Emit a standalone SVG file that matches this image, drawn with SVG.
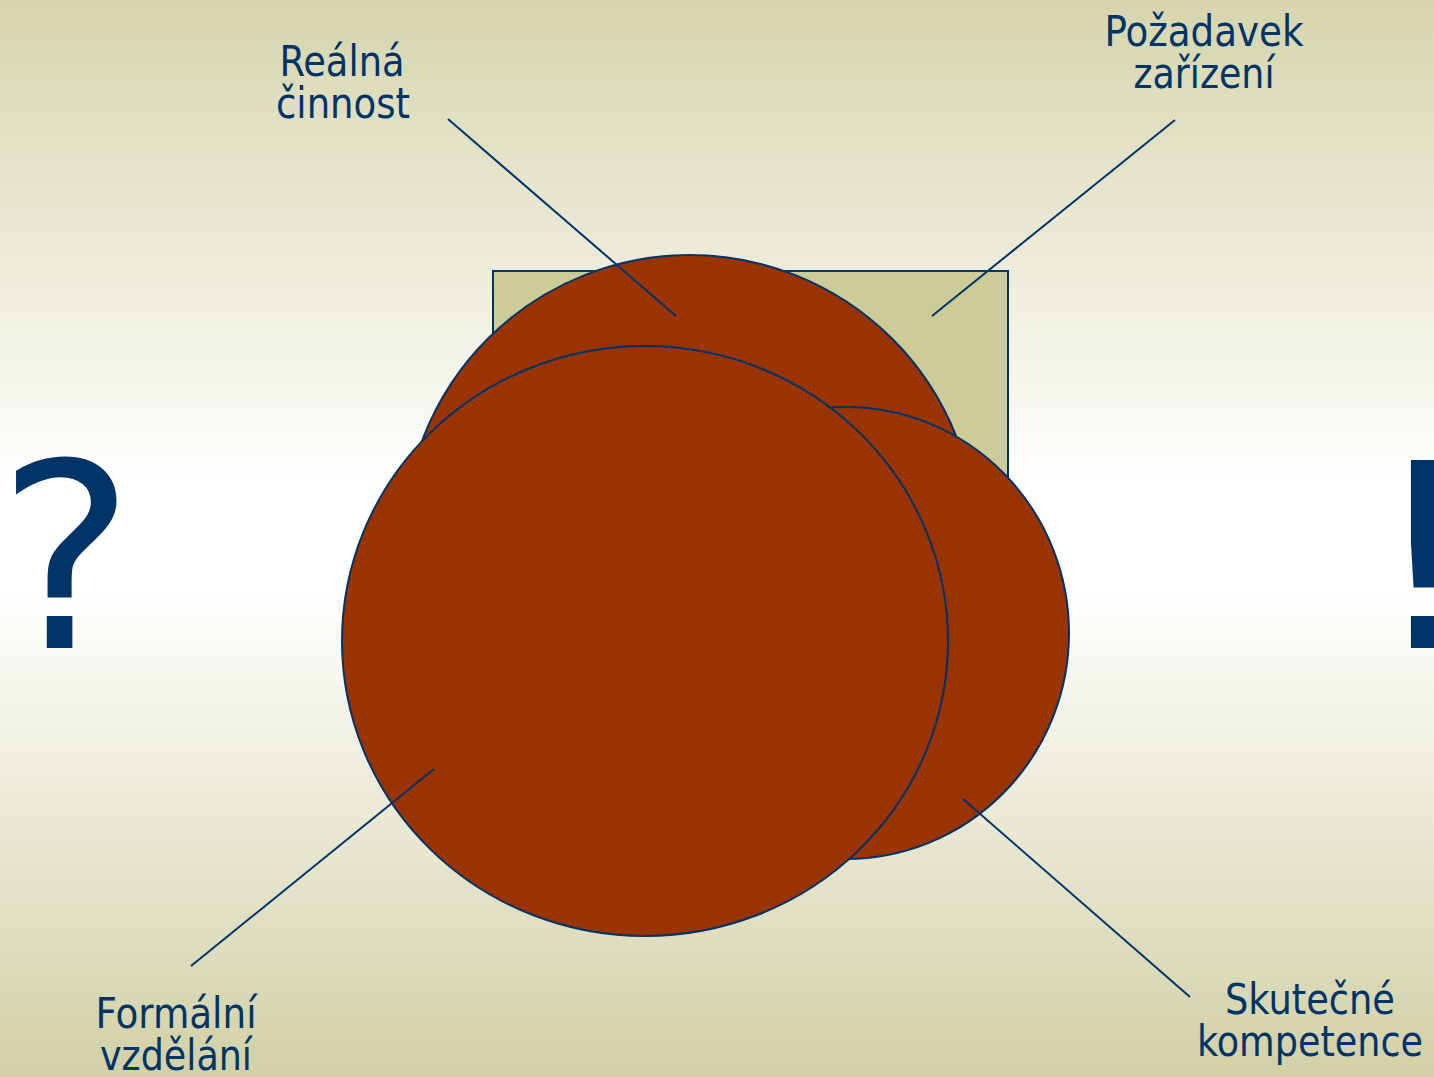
<svg xmlns="http://www.w3.org/2000/svg" width="1434" height="1077" viewBox="0 0 1434 1077">
<defs>
<linearGradient id="bg" x1="0" y1="0" x2="0" y2="1">
<stop offset="0" stop-color="#d6d5ae"/>
<stop offset="0.45" stop-color="#ffffff"/>
<stop offset="0.55" stop-color="#ffffff"/>
<stop offset="1" stop-color="#d1d0a6"/>
</linearGradient>
<style>
.lbl{font-family:"DejaVu Sans Condensed","DejaVu Sans",sans-serif;font-size:42px;fill:#003366;text-anchor:middle}
.big{font-family:"DejaVu Sans","Liberation Sans",sans-serif;font-size:258px;fill:#003366}
.shape{stroke:#003366;stroke-width:2}
.circ{fill:#993300;stroke:#003366;stroke-width:2}
.conn{stroke:#003366;stroke-width:2;fill:none}
</style>
</defs>
<rect x="0" y="0" width="1434" height="1077" fill="url(#bg)"/>
<g id="pozadavek-box"><rect class="shape" x="493" y="271" width="515" height="420" fill="#cccc99"/></g>
<g id="realna-cinnost"><circle class="circ" cx="690" cy="541" r="286"/></g>
<g id="skutecne-kompetence"><ellipse class="circ" cx="846" cy="633" rx="223" ry="226"/></g>
<g id="formalni-vzdelani"><ellipse class="circ" cx="645" cy="641" rx="303" ry="295"/></g>
<g id="connectors">
<line class="conn" x1="448" y1="119" x2="676" y2="316"/>
<line class="conn" x1="1175" y1="120" x2="932" y2="316"/>
<line class="conn" x1="191" y1="966" x2="434" y2="769"/>
<line class="conn" x1="1190" y1="997" x2="963" y2="799"/>
</g>
<g id="label-realna">
<text class="lbl" x="342" y="76" textLength="125" lengthAdjust="spacingAndGlyphs">Reálná</text>
<text class="lbl" x="343" y="118" textLength="134" lengthAdjust="spacingAndGlyphs">činnost</text>
</g>
<g id="label-pozadavek">
<text class="lbl" x="1204" y="46" textLength="199" lengthAdjust="spacingAndGlyphs">Požadavek</text>
<text class="lbl" x="1204" y="88" textLength="141" lengthAdjust="spacingAndGlyphs">zařízení</text>
</g>
<g id="label-formalni">
<text class="lbl" x="176" y="1028" textLength="161" lengthAdjust="spacingAndGlyphs">Formální</text>
<text class="lbl" x="176" y="1070" textLength="152" lengthAdjust="spacingAndGlyphs">vzdělání</text>
</g>
<g id="label-skutecne">
<text class="lbl" x="1310" y="1014" textLength="170" lengthAdjust="spacingAndGlyphs">Skutečné</text>
<text class="lbl" x="1310" y="1056" textLength="226" lengthAdjust="spacingAndGlyphs">kompetence</text>
</g>
<g id="question"><text class="big" x="66" y="648" text-anchor="middle">?</text></g>
<g id="exclaim"><text class="big" x="1372" y="648">!</text></g>
</svg>
